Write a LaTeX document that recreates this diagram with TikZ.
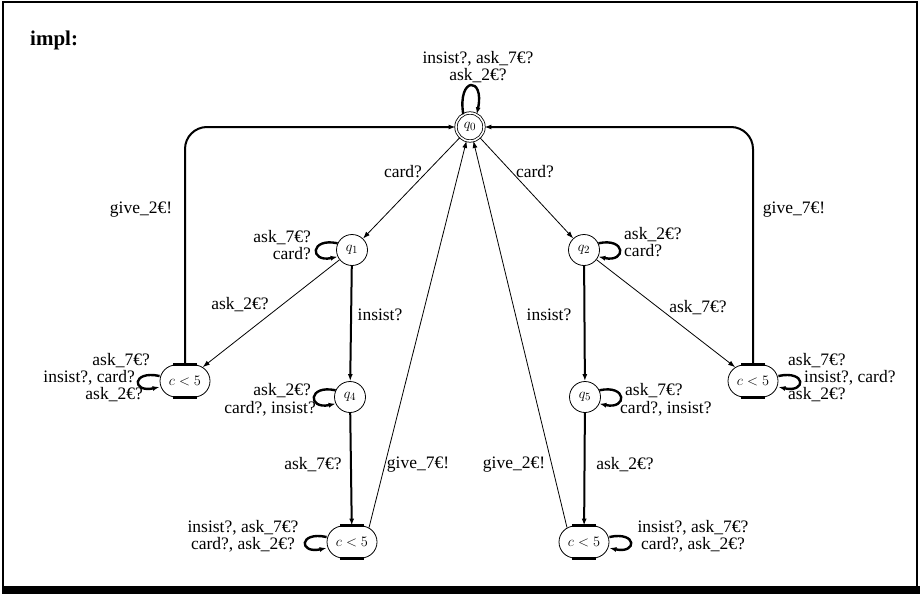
\documentclass[tikz,border=0pt]{standalone}
\usepackage{fontspec}
\setmainfont{Liberation Serif}
\usetikzlibrary{arrows.meta,shapes.misc}
\newcommand\labfont{\fontsize{17.5}{17}\selectfont}
\newcommand\nodefont{\fontsize{15}{15}\selectfont}
\begin{document}
\begin{tikzpicture}[x=1pt,y=-1pt,
  st/.style={circle,draw,line width=0.8pt,minimum size=31pt,inner sep=0pt,font=\nodefont},
  cs/.style={rounded rectangle,draw,line width=0.8pt,minimum width=50pt,minimum height=32pt,inner sep=0pt,font=\nodefont},
  lab/.style={inner sep=0pt,font=\labfont},
  arr/.style={-{Latex[length=7pt,width=5pt]}},
  thinedge/.style={arr,line width=0.8pt},
  thickedge/.style={arr,line width=2pt},
  loopedge/.style={arr,line width=2.4pt},
  bar/.style={line width=2.6pt}]
\useasboundingbox (0,0) rectangle (920,594);
\draw[line width=1.5pt] (3,586) -- (3,2) -- (917,2) -- (917,586);
\fill (2,586) rectangle (920,594);
\node[lab,font=\fontsize{21}{21}\selectfont\bfseries,anchor=west] (title) at (30,40) {impl:};

% states
\node[st,double,double distance=1.6pt,minimum size=28pt] (q0) at (470,127) {$q_0$};
\node[st] (q1) at (352,250) {$q_1$};
\node[st] (q2) at (584,250) {$q_2$};
\node[st] (q4) at (350,397) {$q_4$};
\node[st] (q5) at (585,397) {$q_5$};
\node[cs] (cL) at (185,381) {$c<5$};
\node[cs] (cR) at (753,381) {$c<5$};
\node[cs] (cBL) at (352,542) {$c<5$};
\node[cs] (cBR) at (584,542) {$c<5$};
\foreach \n in {cL,cR,cBL,cBR}{
  \draw[bar] ([xshift=-12pt]\n.north) -- ([xshift=12pt]\n.north);
  \draw[bar] ([xshift=-12pt]\n.south) -- ([xshift=12pt]\n.south);
}

% edges
\draw[thinedge] (q0) -- (q1);
\draw[thinedge] (q0) -- (q2);
\draw[thinedge] (q1) -- (cL);
\draw[thickedge] (q1) -- (q4);
\draw[thickedge] (q2) -- (q5);
\draw[thinedge] (q2) -- (cR);
\draw[thickedge] (q4) -- (cBL);
\draw[thickedge] (q5) -- (cBR);
\draw[thinedge] ([xshift=17pt,yshift=-2pt]cBL.north) -- (q0);
\draw[thinedge] ([xshift=-17pt,yshift=-2pt]cBR.north) -- (q0);
\draw[thickedge,rounded corners=22pt] (cL.north) -- (cL.north |- q0) -- (q0);
\draw[thickedge,rounded corners=22pt] (cR.north) -- (cR.north |- q0) -- (q0);

% loops
\draw[loopedge] (q0.118) .. controls +(-6,-38) and +(8,-38) .. (q0.62);
\draw[loopedge] (q1.155) .. controls +(-28,-6) and +(-28,6) .. (q1.205);
\draw[loopedge] (q2.25) .. controls +(28,-6) and +(28,6) .. (q2.-25);
\draw[loopedge] (q4.155) .. controls +(-28,-6) and +(-28,6) .. (q4.205);
\draw[loopedge] (q5.25) .. controls +(28,-6) and +(28,6) .. (q5.-25);
\draw[loopedge] ([yshift=5pt]cL.west) .. controls +(-28,-6) and +(-28,6) .. ([yshift=-6pt]cL.west);
\draw[loopedge] ([yshift=5pt]cR.east) .. controls +(28,-6) and +(28,6) .. ([yshift=-6pt]cR.east);
\draw[loopedge] ([yshift=5pt]cBL.west) .. controls +(-28,-6) and +(-28,6) .. ([yshift=-6pt]cBL.west);
\draw[loopedge] ([yshift=5pt]cBR.east) .. controls +(28,-6) and +(28,6) .. ([yshift=-6pt]cBR.east);

% loop labels
\node[lab,align=center] (l0) at (478,67) {insist?, ask\_7€?\\ask\_2€?};
\node[lab,align=right,anchor=east] (l1) at (311,245) {ask\_7€?\\card?};
\node[lab,align=left,anchor=west] (l2) at (624,242) {ask\_2€?\\card?};
\node[lab,anchor=east] (lL1) at (150,361) {ask\_7€?};
\node[lab,anchor=east] (lL2) at (135,378) {insist?, card?};
\node[lab,anchor=east] (lL3) at (143,395) {ask\_2€?};
\node[lab,anchor=west] (lR1) at (788,361) {ask\_7€?};
\node[lab,anchor=west] (lR2) at (804,378) {insist?, card?};
\node[lab,anchor=west] (lR3) at (788,395) {ask\_2€?};
\node[lab,anchor=east] (l4a) at (311,391) {ask\_2€?};
\node[lab,anchor=east] (l4b) at (316,409) {card?, insist?};
\node[lab,anchor=west] (l5a) at (625,391) {ask\_7€?};
\node[lab,anchor=west] (l5b) at (620,409) {card?, insist?};
\node[lab,align=center] (lBL) at (243,536) {insist?, ask\_7€?\\card?, ask\_2€?};
\node[lab,align=center] (lBR) at (693,536) {insist?, ask\_7€?\\card?, ask\_2€?};

% edge labels
\node[lab] (e1) at (141,210) {give\_2€!};
\node[lab] (e2) at (794,210) {give\_7€!};
\node[lab] (e3) at (403,172) {card?};
\node[lab] (e4) at (535,172) {card?};
\node[lab] (e5) at (240,305) {ask\_2€?};
\node[lab] (e6) at (380,315) {insist?};
\node[lab] (e7) at (549,315) {insist?};
\node[lab] (e8) at (698,308) {ask\_7€?};
\node[lab] (e9) at (313,465) {ask\_7€?};
\node[lab] (e10) at (418,465) {give\_7€!};
\node[lab] (e11) at (514,465) {give\_2€!};
\node[lab] (e12) at (625,465) {ask\_2€?};
\end{tikzpicture}
\end{document}
